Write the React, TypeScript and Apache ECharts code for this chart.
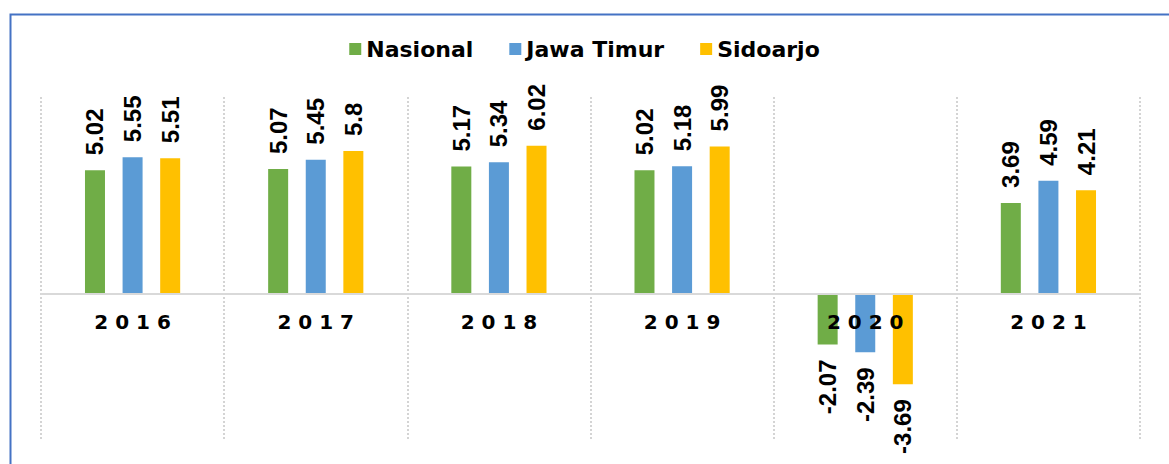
import React, { useEffect, useRef } from "react";
import * as echarts from "echarts";

const categories = ["2016", "2017", "2018", "2019", "2020", "2021"];
const seriesNames = ["Nasional", "Jawa Timur", "Sidoarjo"];
const nasional = [5.02, 5.07, 5.17, 5.02, -2.07, 3.69];
const jawaTimur = [5.55, 5.45, 5.34, 5.18, -2.39, 4.59];
const sidoarjo = [5.51, 5.8, 6.02, 5.99, -3.69, 4.21];
const colors = ["#70AD47", "#5B9BD5", "#FFC000"];
const yMin = -6;
const yMax = 8;

const labelFont = "'Liberation Sans Narrow', 'Liberation Sans', Arial, sans-serif";

function makeData(values: number[]) {
  return values.map((v) => ({
    value: v,
    label:
      v < 0
        ? { position: "bottom", align: "right", verticalAlign: "middle" }
        : { position: "top", align: "left", verticalAlign: "middle" },
  }));
}

export default function App() {
  const ref = useRef<HTMLDivElement>(null);
  useEffect(() => {
    if (!ref.current) return;
    const chart = echarts.init(ref.current, null, { renderer: "svg" });
    const allValues = [nasional, jawaTimur, sidoarjo];
    const gridTop = 97;
    const gridBottom = 23;
    const plotH = 464 - gridTop - gridBottom;
    const zeroOffset = -plotH * (-yMin / (yMax - yMin));
    chart.setOption({
      animation: false,
      backgroundColor: "#ffffff",
      graphic: [
        {
          type: "rect",
          left: 8,
          top: 12,
          shape: { x: 0, y: 0, width: 1200, height: 500 },
          style: { fill: "none", stroke: "#4472C4", lineWidth: 2 },
          z: 100,
        },
      ],
      legend: {
        data: seriesNames,
        top: 33,
        left: "center",
        itemWidth: 12,
        itemHeight: 12,
        itemGap: 36,
        icon: "rect",
        textStyle: {
          fontFamily: "'DejaVu Sans', Verdana, sans-serif",
          fontWeight: "bold",
          fontSize: 22,
          color: "#000",
        },
      },
      grid: {
        left: 41,
        right: 29,
        top: gridTop,
        bottom: gridBottom,
        containLabel: false,
        outerBoundsMode: "none",
      },
      xAxis: {
        type: "category",
        data: categories,
        z: 10,
        offset: zeroOffset,
        axisTick: { show: false },
        axisLine: { onZero: false, lineStyle: { color: "#d9d9d9", width: 2 } },
        splitLine: {
          show: true,
          interval: 0,
          lineStyle: { color: "#d4d4d4", type: "dotted", width: 2 },
        },
        axisLabel: {
          interval: 0,
          margin: 18,
          formatter: (v: string) => v.split("").join(" "),
          fontFamily: "'DejaVu Sans', Verdana, sans-serif",
          fontWeight: "bold",
          fontSize: 20,
          color: "#000",
        },
      },
      yAxis: {
        type: "value",
        min: yMin,
        max: yMax,
        show: false,
        splitLine: { show: false },
      },
      series: seriesNames.map((name, i) => ({
        name,
        type: "bar",
        barWidth: 20,
        barGap: "88%",
        itemStyle: { color: colors[i] },
        label: {
          show: true,
          rotate: 90,
          distance: 15,
          fontFamily: labelFont,
          fontWeight: "bold",
          fontSize: 24,
          color: "#000",
        },
        data: makeData(allValues[i]),
      })),
    });
    return () => chart.dispose();
  }, []);
  return (
    <div
      ref={ref}
      style={{ position: "fixed", left: 0, top: 0, width: 1169, height: 464 }}
    />
  );
}
